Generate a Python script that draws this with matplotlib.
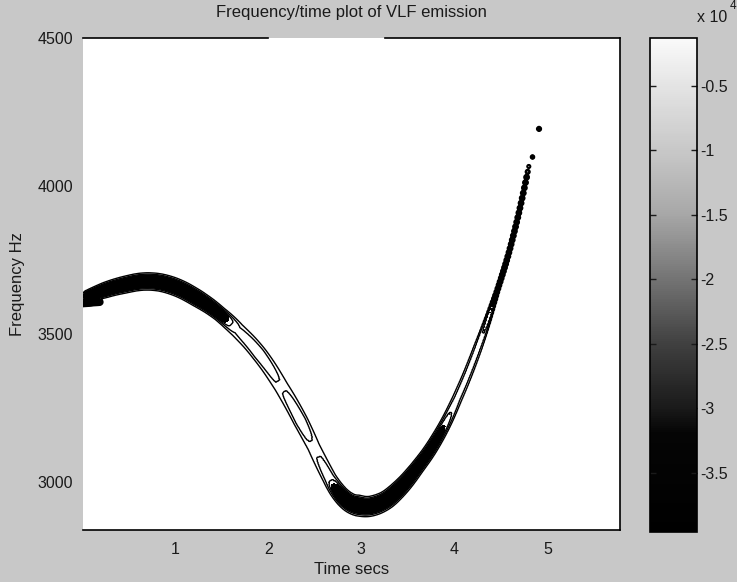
import numpy as np
import matplotlib.pyplot as plt
from matplotlib.colors import LinearSegmentedColormap, Normalize
from matplotlib.cm import ScalarMappable

# Spoor van de VLF-emissie (tijd in s, frequentie in Hz)
trace_t = [0.07, 0.25, 0.44, 0.70, 0.98, 1.24, 1.48, 1.67, 1.90, 2.14, 2.35, 2.49, 2.66,
           2.79, 2.96, 3.17, 3.39, 3.60, 3.82, 4.03, 4.25, 4.46, 4.68, 4.78, 4.80]
trace_f = [3628, 3650, 3666, 3682, 3666, 3622, 3571, 3514, 3440, 3325, 3209, 3118, 3007,
           2939, 2916, 2916, 2966, 3047, 3142, 3277, 3446, 3642, 3868, 4037, 4066]
# Sterkte (x 10^4, negatief) en halve bandbreedte (Hz) langs het spoor
trace_amp = [3.9, 3.9, 3.9, 3.9, 3.9, 3.9, 3.4, 1.6, 2.1, 1.4, 2.1, 1.3, 2.0,
             3.9, 3.9, 3.9, 3.9, 3.4, 3.0, 1.8, 1.9, 3.0, 2.9, 3.0, 2.0]
trace_bw = [18, 22, 24, 25, 25, 24, 21, 24, 24, 24, 23, 22, 22,
            24, 30, 28, 24, 20, 18, 16, 14, 8, 8, 8, 6]

# Los stukje links en twee losse punten bovenaan
stub_t = [0.01, 0.19]
stub_f = [3603, 3608]
stub_amp = [3.9, 3.9]
stub_bw = [9, 9]

dot_t = [4.84, 4.91]
dot_f = [4098, 4193]
dot_amp = [3.0, 3.0]
dot_bw = [6, 7]

x_ticks = [1, 2, 3, 4, 5]
y_ticks = [3000, 3500, 4000, 4500]
cbar_ticks = [-3.5, -3, -2.5, -2, -1.5, -1, -0.5]

W, H = 737, 582
AX_L, AX_R, AX_T, AX_B = 83, 620, 38, 530
XLIM = (0.01, 5.78)
YLIM = (2838, 4500)


def ridge(T, F, tt, ff, amp, bw, k, n=400):
	# afstand tot het spoor (loodrecht, in Hz-equivalent) -> intensiteit
	ts = np.linspace(tt[0], tt[-1], n)
	fs = np.interp(ts, tt, ff)
	if n > 30:
		# iets gladder spoor, uiteinden blijven op hun plaats
		pad = 12
		lo = 2 * fs[0] - fs[pad:0:-1]
		hi = 2 * fs[-1] - fs[-2:-pad - 2:-1]
		fp = np.concatenate([lo, fs, hi])
		fs = np.convolve(fp, np.ones(2 * pad + 1) / (2 * pad + 1), mode='valid')
	a_s = np.interp(ts, tt, amp)
	w_s = np.interp(ts, tt, bw)
	best = np.full(T.shape, np.inf)
	idx = np.zeros(T.shape, dtype=int)
	for i in range(n):
		d2 = ((T - ts[i]) * k) ** 2 + (F - fs[i]) ** 2
		m = d2 < best
		best[m] = d2[m]
		idx[m] = i
	return -a_s[idx] * np.exp(-(np.sqrt(best) / w_s[idx]) ** 4)


def main():
	plt.rcParams['font.family'] = ['Liberation Sans', 'DejaVu Sans']
	bg = '#c8c8c8'

	fig = plt.figure(figsize=(W / 100, H / 100), dpi=100, facecolor=bg)
	ax = fig.add_axes([AX_L / W, 1 - AX_B / H, (AX_R - AX_L) / W, (AX_B - AX_T) / H])
	ax.set_facecolor('white')

	# rooster en schaal tussen tijd en frequentie (pixels)
	px_t = (AX_R - AX_L) / (XLIM[1] - XLIM[0])
	px_f = (AX_B - AX_T) / (YLIM[1] - YLIM[0])
	k = px_t / px_f
	t = np.linspace(XLIM[0], XLIM[1], 700)
	f = np.linspace(YLIM[0], YLIM[1], 600)
	T, F = np.meshgrid(t, f)

	Z = ridge(T, F, trace_t, trace_f, trace_amp, trace_bw, k)
	Z = np.minimum(Z, ridge(T, F, stub_t, stub_f, stub_amp, stub_bw, k, n=30))
	for i in range(len(dot_t)):
		Z = np.minimum(Z, ridge(T, F, [dot_t[i]] * 2, [dot_f[i]] * 2,
		                        [dot_amp[i]] * 2, [dot_bw[i]] * 2, k, n=1))

	ax.contourf(T, F, Z, levels=[-10, -2.6], colors='black')
	ax.contour(T, F, Z, levels=[-2.2, -1.5, -0.6], colors='black',
	           linewidths=1.0, linestyles='solid')

	ax.set_xlim(XLIM)
	ax.set_ylim(YLIM)
	ax.set_xticks(x_ticks)
	ax.set_yticks(y_ticks)
	ax.tick_params(length=0, labelsize=11.5, colors='#1a1a1a')
	ax.tick_params(axis='x', pad=9)
	ax.tick_params(axis='y', pad=7)

	# randen: links geen lijn, bovenaan een onderbreking
	ax.spines['left'].set_visible(False)
	ax.spines['top'].set_visible(False)
	ax.spines['right'].set_linewidth(1.2)
	ax.spines['bottom'].set_linewidth(1.2)
	ax.plot([0, 0.345], [1, 1], color='black', lw=1.2, transform=ax.transAxes, clip_on=False)
	ax.plot([0.562, 1], [1, 1], color='black', lw=1.2, transform=ax.transAxes, clip_on=False)

	ax.set_title('Frequency/time plot of VLF emission', fontsize=12, pad=15, color='#1a1a1a')
	ax.set_xlabel('Time secs', fontsize=12, labelpad=3, color='#1a1a1a')
	ax.set_ylabel('Frequency Hz', fontsize=12, labelpad=9, color='#1a1a1a')

	# kleurenbalk in grijstinten
	cmap = LinearSegmentedColormap.from_list('vlf', [
		(0.0, (0, 0, 0)), (0.2, (0.02, 0.02, 0.02)), (0.25, (0.1, 0.1, 0.1)),
		(0.38, (0.25, 0.25, 0.25)), (0.51, (0.45, 0.45, 0.45)), (0.64, (0.65, 0.65, 0.65)),
		(0.77, (0.78, 0.78, 0.78)), (0.9, (0.89, 0.89, 0.89)), (1.0, (0.98, 0.98, 0.98))])
	norm = Normalize(vmin=-3.96, vmax=-0.13)
	cax = fig.add_axes([650 / W, 1 - 532 / H, 47 / W, (532 - 38) / H])
	cb = fig.colorbar(ScalarMappable(norm=norm, cmap=cmap), cax=cax)
	cb.set_ticks(cbar_ticks)
	cb.set_ticklabels(['%g' % v for v in cbar_ticks])
	cax.tick_params(direction='in', left=True, right=True, length=4, width=1,
	                labelsize=11.5, colors='#1a1a1a', pad=2)
	cb.outline.set_linewidth(1.2)

	fig.text(697 / W, 1 - 17 / H, 'x 10', fontsize=11.5, ha='left', va='center', color='#1a1a1a')
	fig.text(730 / W, 1 - 6 / H, '4', fontsize=8.5, ha='left', va='center', color='#1a1a1a')

	fig.savefig('out.png', dpi=100, facecolor=bg)


if __name__ == '__main__':
	main()
